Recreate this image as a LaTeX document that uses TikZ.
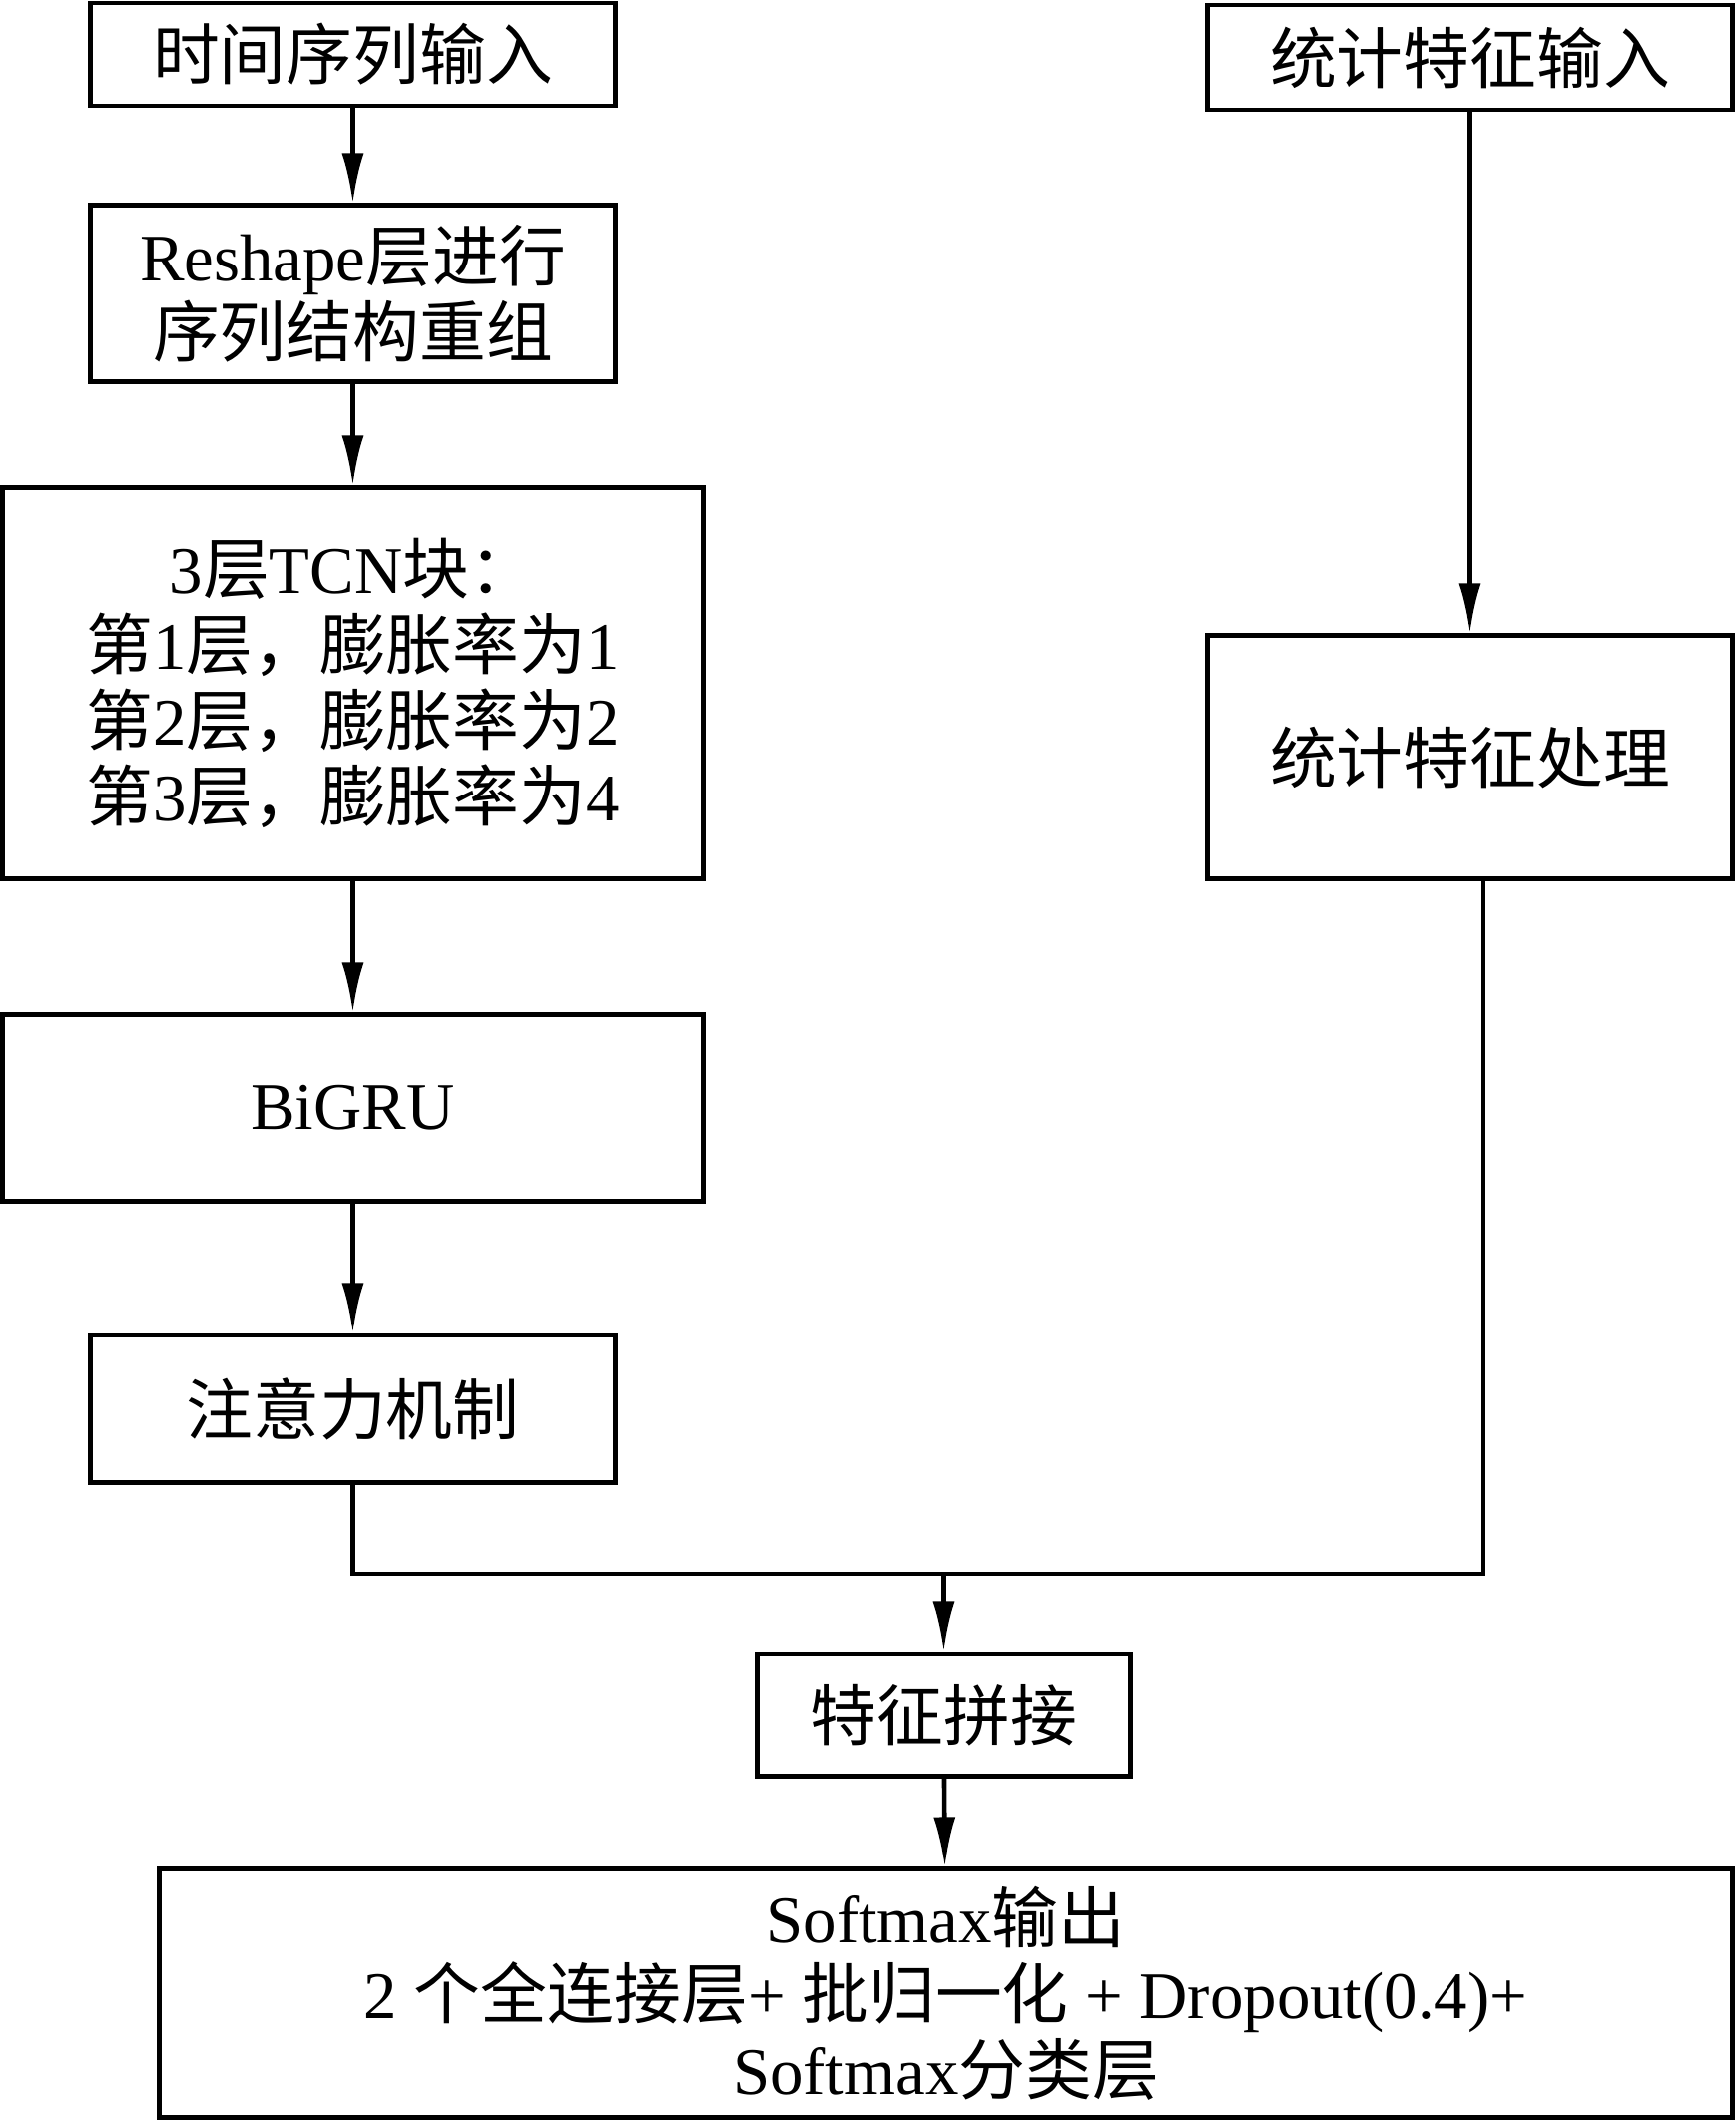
\documentclass[tikz,border=0pt]{standalone}
\usepackage{fontspec}
\setmainfont{Liberation Serif}
\newfontfamily\zhfont{Noto Sans CJK SC}
\newcommand\zh[1]{{\zhfont #1}}
\usetikzlibrary{arrows.meta}
\begin{document}
\begin{tikzpicture}[x=0.01cm,y=-0.01cm,
  box/.style={draw, line width=1.4pt, align=center, inner sep=0pt,
    font=\fontsize{19}{21.6}\selectfont},
  arr/.style={line width=1.3pt, -{Latex[length=5mm,width=2.2mm]}},
  ln/.style={line width=1.3pt}]
\useasboundingbox (0,0) rectangle (1738,2124);

\node[box, minimum width=5.25cm, minimum height=1.03cm] (tsin) at (353.5,54.5) {\zh{时间序列输入}};
\node[box, minimum width=5.25cm, minimum height=1.76cm] (resh) at (353.5,294) {Reshape\zh{层进行}\\\zh{序列结构重组}};
\node[box, minimum width=7.01cm, minimum height=3.91cm] (tcn) at (353.5,684.5) {3\zh{层}TCN\zh{块：}\\\zh{第}1\zh{层，膨胀率为}1\\\zh{第}2\zh{层，膨胀率为}2\\\zh{第}3\zh{层，膨胀率为}4};
\node[box, minimum width=7.01cm, minimum height=1.86cm] (bigru) at (353.5,1110) {BiGRU};
\node[box, minimum width=5.25cm, minimum height=1.47cm] (attn) at (353.5,1411.5) {\zh{注意力机制}};

\node[box, minimum width=5.25cm, minimum height=1.05cm] (stin) at (1472.5,57.5) {\zh{统计特征输入}};
\node[box, minimum width=5.25cm, minimum height=2.43cm] (stproc) at (1472.5,758.5) {\zh{统计特征处理}};

\node[box, minimum width=3.73cm, minimum height=1.22cm] (cat) at (945.5,1718) {\zh{特征拼接}};
\node[box, minimum width=15.75cm, minimum height=2.48cm] (out) at (947.5,1997) {Softmax\zh{输出}\\2 \zh{个全连接层}+ \zh{批归一化} + Dropout(0.4)+\\Softmax\zh{分类层}};

\draw[arr] (tsin) -- (resh);
\draw[arr] (resh) -- (tcn);
\draw[arr] (tcn) -- (bigru);
\draw[arr] (bigru) -- (attn);
\draw[arr] (stin) -- (stproc);

\coordinate (m) at (945.5,1577);
\coordinate (sp) at ([xshift=0.135cm]stproc.south);
\draw[ln] (attn.south) |- (m) -| (sp);
\draw[arr] (m) -- (cat.north);
\draw[arr] (cat) -- (out);
\end{tikzpicture}
\end{document}
